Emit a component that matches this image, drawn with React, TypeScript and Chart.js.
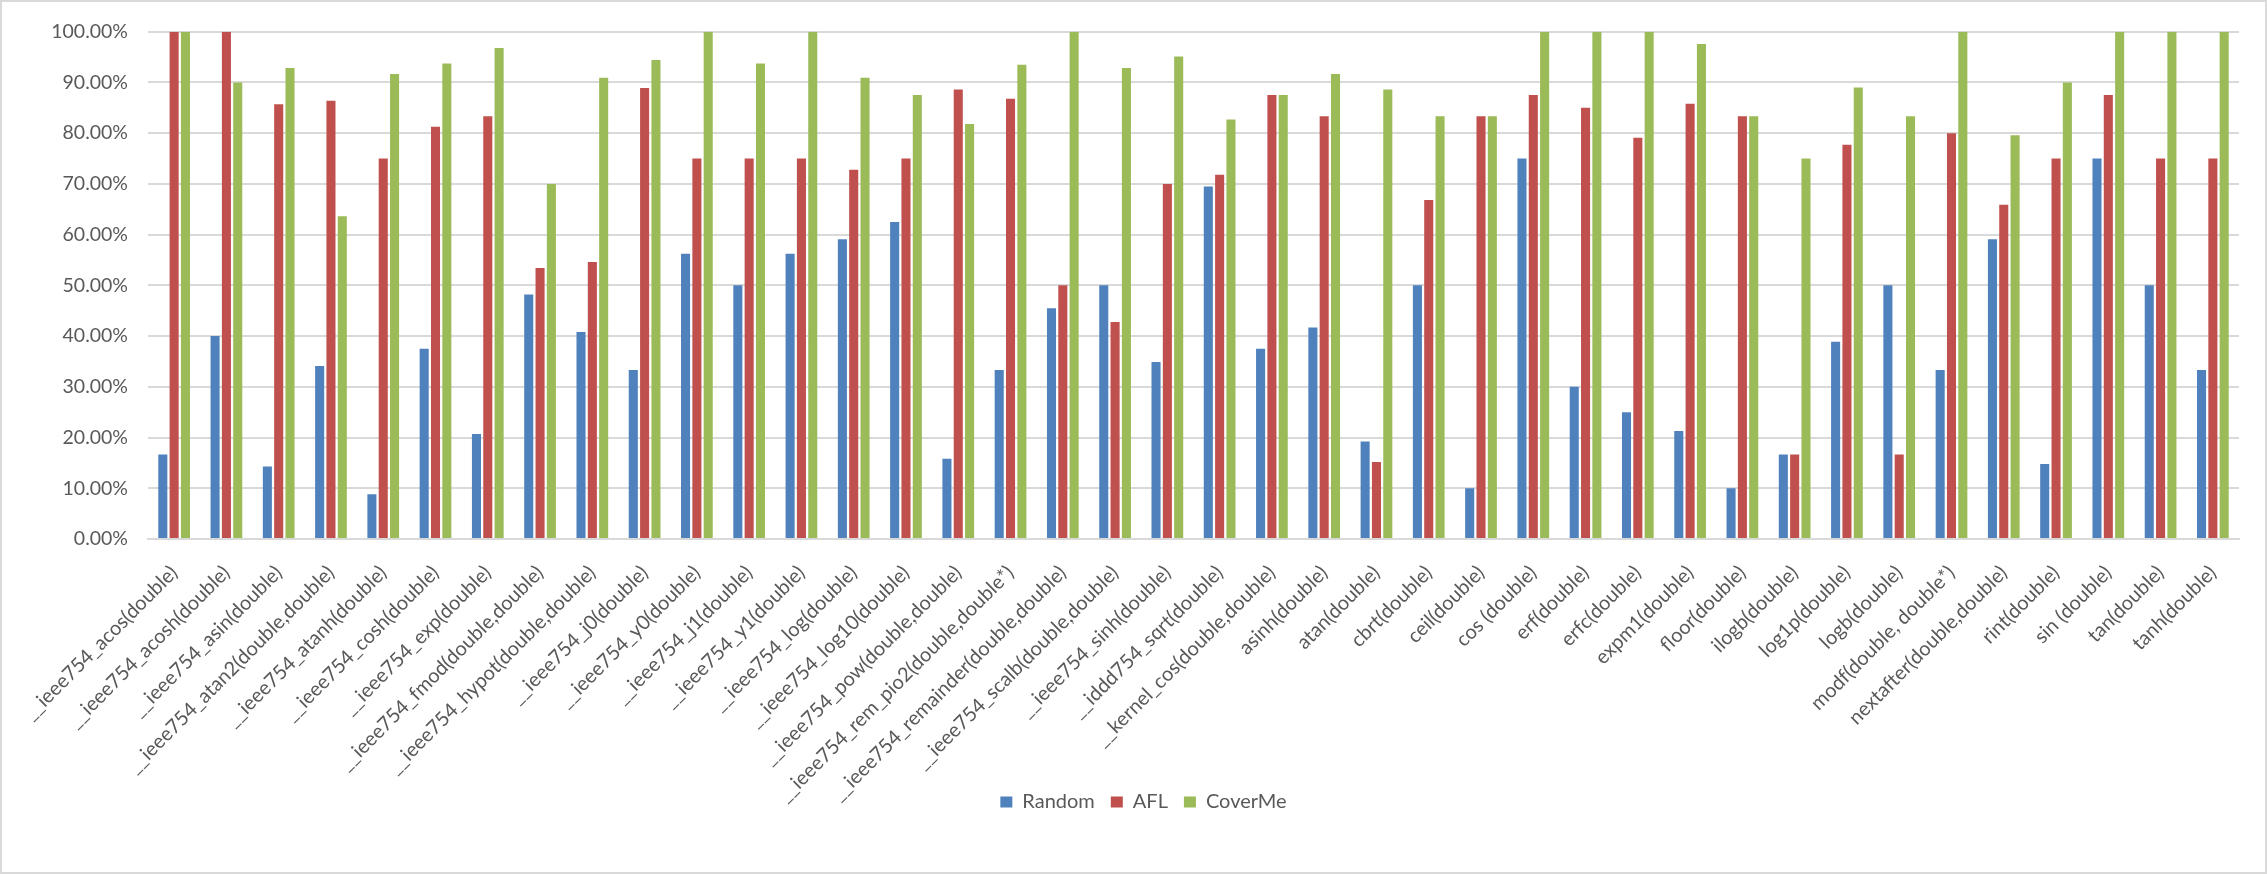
import React, { useEffect, useRef } from "react";
import { Chart, registerables } from "chart.js";

Chart.register(...registerables);

const categories: string[] = [
  "__ieee754_acos(double)",
  "__ieee754_acosh(double)",
  "__ieee754_asin(double)",
  "__ieee754_atan2(double,double)",
  "__ieee754_atanh(double)",
  "__ieee754_cosh(double)",
  "__ieee754_exp(double)",
  "__ieee754_fmod(double,double)",
  "__ieee754_hypot(double,double)",
  "__ieee754_j0(double)",
  "__ieee754_y0(double)",
  "__ieee754_j1(double)",
  "__ieee754_y1(double)",
  "__ieee754_log(double)",
  "__ieee754_log10(double)",
  "__ieee754_pow(double,double)",
  "__ieee754_rem_pio2(double,double*)",
  "__ieee754_remainder(double,double)",
  "__ieee754_scalb(double,double)",
  "__ieee754_sinh(double)",
  "__iddd754_sqrt(double)",
  "__kernel_cos(double,double)",
  "asinh(double)",
  "atan(double)",
  "cbrt(double)",
  "ceil(double)",
  "cos (double)",
  "erf(double)",
  "erfc(double)",
  "expm1(double)",
  "floor(double)",
  "ilogb(double)",
  "log1p(double)",
  "logb(double)",
  "modf(double, double*)",
  "nextafter(double,double)",
  "rint(double)",
  "sin (double)",
  "tan(double)",
  "tanh(double)",
];

const randomValues: number[] = [
  16.67, 40.0, 14.29, 34.1, 8.8, 37.5, 20.7, 48.2, 40.8, 33.33,
  56.25, 50.0, 56.25, 59.1, 62.5, 15.8, 33.33, 45.5, 50.0, 34.9,
  69.5, 37.5, 41.67, 19.2, 50.0, 10.0, 75.0, 30.0, 25.0, 21.3,
  10.0, 16.67, 38.9, 50.0, 33.33, 59.1, 14.8, 75.0, 50.0, 33.33,
];

const aflValues: number[] = [
  100, 100, 85.71, 86.4, 75.0, 81.25, 83.33, 53.4, 54.6, 88.9,
  75.0, 75.0, 75.0, 72.8, 75.0, 88.6, 86.8, 50.0, 42.8, 70.0,
  71.8, 87.5, 83.33, 15.2, 66.8, 83.33, 87.5, 85.0, 79.1, 85.8,
  83.33, 16.67, 77.7, 16.67, 80.0, 65.9, 75.0, 87.5, 75.0, 75.0,
];

const coverMeValues: number[] = [
  100, 90.0, 92.86, 63.64, 91.67, 93.75, 96.8, 70.0, 90.9, 94.4,
  100, 93.75, 100, 90.9, 87.5, 81.8, 93.5, 100, 92.86, 95.1,
  82.7, 87.5, 91.67, 88.6, 83.33, 83.33, 100, 100, 100, 97.6,
  83.33, 75.0, 89.0, 83.33, 100, 79.6, 90.0, 100, 100, 100,
];

const yTicks: number[] = [0, 10, 20, 30, 40, 50, 60, 70, 80, 90, 100];

const FONT = "Lato, 'Liberation Sans', sans-serif";
const TEXT = "#595959";

const frame = {
  id: "frame",
  afterLayout(chart: any) {
    // let the rotated category labels run past the axis box (no clipping)
    const x = chart.scales.x;
    if (x) x.bottom = chart.height;
  },
  beforeDraw(chart: any) {
    const { ctx, width, height } = chart;
    ctx.save();
    ctx.fillStyle = "#ffffff";
    ctx.fillRect(0, 0, width, height);
    ctx.restore();
  },
  afterDraw(chart: any) {
    const { ctx, width, height } = chart;
    ctx.save();
    ctx.strokeStyle = "#d9d9d9";
    ctx.lineWidth = 2;
    ctx.strokeRect(1, 1, width - 2, height - 2);
    ctx.restore();
  },
};

export default function App() {
  const ref = useRef<HTMLCanvasElement | null>(null);

  useEffect(() => {
    document.body.style.margin = "0";
    if (!ref.current) return;
    const chart = new Chart(ref.current, {
      type: "bar",
      data: {
        labels: categories,
        datasets: [
          { label: "Random", data: randomValues, backgroundColor: "#4F81BD" },
          { label: "AFL", data: aflValues, backgroundColor: "#C0504D" },
          { label: "CoverMe", data: coverMeValues, backgroundColor: "#9BBB59" },
        ],
      },
      options: {
        responsive: false,
        animation: false,
        datasets: {
          bar: { categoryPercentage: 0.65, barPercentage: 0.8 },
        },
        layout: { padding: { left: 48, right: 28, top: 18, bottom: 52 } },
        plugins: {
          legend: {
            position: "bottom",
            labels: {
              boxWidth: 12,
              boxHeight: 11,
              padding: 16,
              color: TEXT,
              font: { family: FONT, size: 20 },
            },
          },
          tooltip: { enabled: false },
        },
        scales: {
          x: {
            grid: { display: false, drawTicks: false },
            border: { display: true, color: "#d9d9d9", width: 2 },
            afterFit: (scale: any) => {
              scale.height = 237;
              scale.paddingLeft = 0;
              scale.paddingRight = 0;
            },
            ticks: {
              autoSkip: false,
              minRotation: 45,
              maxRotation: 45,
              padding: 22,
              color: TEXT,
              font: { family: FONT, size: 20 },
            },
          },
          y: {
            min: 0,
            max: 100,
            afterBuildTicks: (axis: any) => {
              axis.ticks = yTicks.map((v) => ({ value: v }));
            },
            afterFit: (scale: any) => {
              scale.width = 100;
            },
            grid: { color: "#d9d9d9", lineWidth: 2, drawTicks: false },
            border: { display: false },
            ticks: {
              padding: 20,
              color: TEXT,
              font: { family: FONT, size: 19.5 },
              callback: (v: any) => Number(v).toFixed(2) + "%",
            },
          },
        },
      },
      plugins: [frame],
    });
    return () => chart.destroy();
  }, []);

  return (
    <div style={{ position: "absolute", left: 0, top: 0, width: 2267, height: 874 }}>
      <canvas ref={ref} width={2267} height={874} style={{ display: "block", width: 2267, height: 874 }} />
    </div>
  );
}
